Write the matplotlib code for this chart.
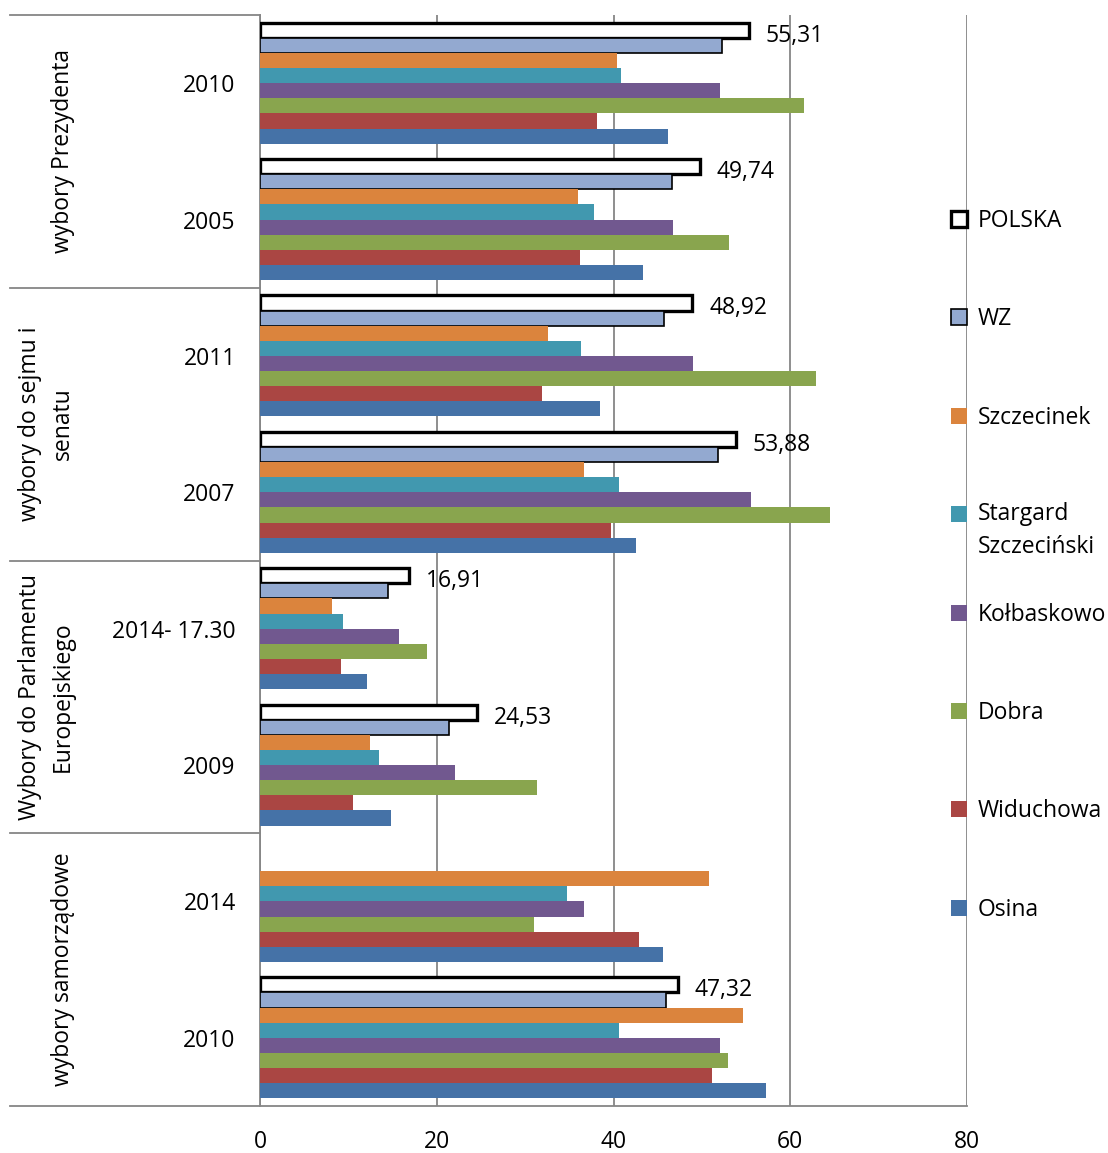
import numpy as np
import matplotlib.pyplot as plt
from matplotlib.patches import Rectangle

plt.rcParams['font.family'] = ['Open Sans', 'DejaVu Sans']
plt.rcParams['font.size'] = 16.5

# groups from top to bottom
categories = ["wybory Prezydenta", "wybory do sejmu i\nsenatu",
              "Wybory do Parlamentu\nEuropejskiego", "wybory samorządowe"]
subcats = ["2010", "2005", "2011", "2007", "2014- 17.30", "2009", "2014", "2010"]

series = ["POLSKA", "WZ", "Szczecinek", "Stargard\nSzczeciński",
          "Kołbaskowo", "Dobra", "Widuchowa", "Osina"]
colors = ["white", "#93A9D0", "#DB843D", "#4198AF",
          "#71588F", "#89A54E", "#AA4643", "#4572A7"]

polska = [55.31, 49.74, 48.92, 53.88, 16.91, 24.53, np.nan, 47.32]
wz = [52.3, 46.6, 45.7, 51.8, 14.5, 21.4, np.nan, 45.9]
szczecinek = [40.4, 36.0, 32.6, 36.7, 8.2, 12.5, 50.8, 54.7]
stargard = [40.8, 37.8, 36.3, 40.6, 9.4, 13.5, 34.7, 40.6]
kolbaskowo = [52.0, 46.7, 49.0, 55.6, 15.7, 22.1, 36.7, 52.0]
dobra = [61.5, 53.1, 62.9, 64.5, 18.9, 31.4, 31.0, 52.9]
widuchowa = [38.1, 36.2, 31.9, 39.7, 9.2, 10.5, 42.9, 51.1]
osina = [46.2, 43.3, 38.5, 42.6, 12.1, 14.8, 45.6, 57.3]

values = [polska, wz, szczecinek, stargard, kolbaskowo, dobra, widuchowa, osina]

W, H = 1108, 1153
fig = plt.figure(figsize=(W / 100, H / 100), dpi=100)
ax = fig.add_axes([260 / W, 1 - 1106 / H, 707 / W, 1091 / H])

grid_c = "#868686"
n = len(series)
h = 0.111
centers = np.arange(len(subcats)) + 0.5

for j in range(n):
    y = centers + (j - (n - 1) / 2) * h
    if j == 0:
        ax.barh(y, values[j], height=h, color="white", edgecolor="black",
                linewidth=2.4, zorder=3)
    elif j == 1:
        ax.barh(y, values[j], height=h, color=colors[j], edgecolor="black",
                linewidth=1.2, zorder=3)
    else:
        ax.barh(y, values[j], height=h, color=colors[j], edgecolor="none",
                zorder=3)

# value labels for POLSKA
y0 = centers + (0 - (n - 1) / 2) * h
for yy, v in zip(y0, polska):
    if not np.isnan(v):
        ax.text(v + 1.9, yy + 0.04, f"{v:.2f}".replace(".", ","),
                va="center", ha="left")

ax.set_xlim(0, 80)
ax.set_ylim(len(subcats), 0)
ax.set_xticks([0, 20, 40, 60, 80])
ax.set_yticks(centers)
ax.set_yticklabels(subcats)
ax.tick_params(axis="y", length=0, pad=17.5)
ax.tick_params(axis="x", length=0, pad=17)
ax.xaxis.grid(True, color=grid_c, linewidth=1.3)
ax.set_axisbelow(True)
for s in ["top", "right"]:
    ax.spines[s].set_visible(False)
ax.spines["left"].set_color(grid_c)
ax.spines["left"].set_linewidth(1.3)
ax.spines["bottom"].set_visible(False)

# category separators and labels on the left
tr = ax.get_yaxis_transform()
x_left = (10 - 260) / 707
for b in [0, 2, 4, 6, 8]:
    ax.plot([x_left, 1.0 if b == 8 else 0], [b, b], transform=tr,
            color=grid_c, linewidth=1.3, clip_on=False, zorder=4)
for i, cat in enumerate(categories):
    ax.text((75 - 260) / 707, 2 * i + 1, cat, transform=tr, rotation=90,
            ha="right", va="center", multialignment="center",
            linespacing=1.5)

# legend
for i, (lab, c) in enumerate(zip(series, colors)):
    yc = 219 + 98.4 * i
    if i == 0:
        ec, lw = "black", 2.4
    elif i == 1:
        ec, lw = "black", 1.2
    else:
        ec, lw = "none", 0
    fig.add_artist(Rectangle((951 / W, 1 - (yc + 8) / H), 16 / W, 16 / H,
                             transform=fig.transFigure, facecolor=c,
                             edgecolor=ec, linewidth=lw))
    extra = lab.count("\n") * 31
    fig.text(978 / W, 1 - (yc + 8 + extra) / H, lab, ha="left", va="baseline",
             linespacing=1.5)

fig.savefig("out.png", dpi=100)
